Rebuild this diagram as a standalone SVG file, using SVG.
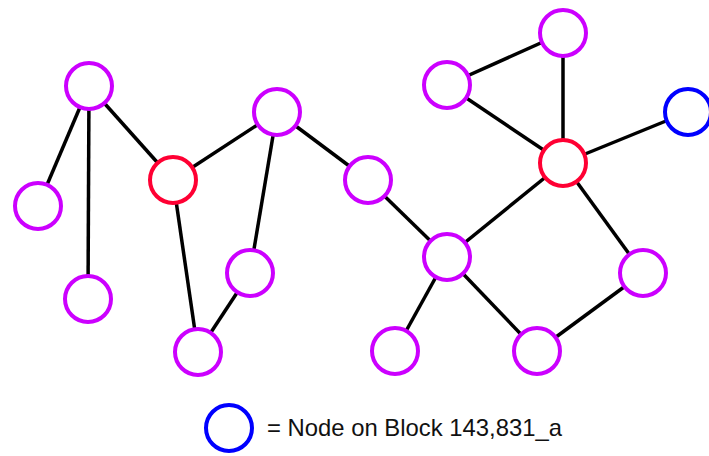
<svg xmlns="http://www.w3.org/2000/svg" width="709" height="456" viewBox="0 0 709 456">
<style>
.e{stroke:#000;stroke-width:3.5;fill:none}
.n{fill:#fff;stroke-width:4}
.m{stroke:#cc00ff}
.r{stroke:#ff0033}
.b{stroke:#0000ff}
.t{font-family:"Liberation Sans",Arial,sans-serif;font-size:24px;fill:#111}
</style>
<rect width="709" height="456" fill="#fff"/>
<g id="connectors">
<line class="e" x1="89" y1="86" x2="38" y2="206"/>
<line class="e" x1="89" y1="86" x2="88" y2="299"/>
<line class="e" x1="89" y1="86" x2="173" y2="180"/>
<line class="e" x1="173" y1="180" x2="277" y2="112"/>
<line class="e" x1="173" y1="180" x2="198" y2="352"/>
<line class="e" x1="277" y1="112" x2="250" y2="273"/>
<line class="e" x1="250" y1="273" x2="198" y2="352"/>
<line class="e" x1="277" y1="112" x2="368" y2="180"/>
<line class="e" x1="368" y1="180" x2="447" y2="257"/>
<line class="e" x1="447" y1="257" x2="395" y2="351"/>
<line class="e" x1="447" y1="257" x2="537" y2="351"/>
<line class="e" x1="537" y1="351" x2="643" y2="273"/>
<line class="e" x1="643" y1="273" x2="563" y2="163"/>
<line class="e" x1="447" y1="257" x2="563" y2="163"/>
<line class="e" x1="563" y1="163" x2="447" y2="85"/>
<line class="e" x1="447" y1="85" x2="563" y2="33"/>
<line class="e" x1="563" y1="33" x2="563" y2="163"/>
<line class="e" x1="563" y1="163" x2="688" y2="112"/>
</g>
<g id="nA"><circle class="n m" cx="89" cy="86" r="23"/></g>
<g id="nB"><circle class="n m" cx="38" cy="206" r="23"/></g>
<g id="nC"><circle class="n m" cx="88" cy="299" r="23"/></g>
<g id="nD"><circle class="n r" cx="173" cy="180" r="23"/></g>
<g id="nE"><circle class="n m" cx="277" cy="112" r="23"/></g>
<g id="nF"><circle class="n m" cx="250" cy="273" r="23"/></g>
<g id="nG"><circle class="n m" cx="198" cy="352" r="23"/></g>
<g id="nH"><circle class="n m" cx="368" cy="180" r="23"/></g>
<g id="nI"><circle class="n m" cx="447" cy="257" r="23"/></g>
<g id="nJ"><circle class="n m" cx="395" cy="351" r="23"/></g>
<g id="nK"><circle class="n m" cx="537" cy="351" r="23"/></g>
<g id="nL"><circle class="n m" cx="643" cy="273" r="23"/></g>
<g id="nM"><circle class="n r" cx="563" cy="163" r="23"/></g>
<g id="nN"><circle class="n m" cx="447" cy="85" r="23"/></g>
<g id="nO"><circle class="n m" cx="563" cy="33" r="23"/></g>
<g id="nP"><circle class="n b" cx="688" cy="112" r="23"/></g>
<g id="legend">
<circle class="n b" cx="229" cy="428" r="23"/>
<text class="t" x="267" y="436" textLength="295" lengthAdjust="spacingAndGlyphs">= Node on Block 143,831_a</text>
</g>
</svg>
